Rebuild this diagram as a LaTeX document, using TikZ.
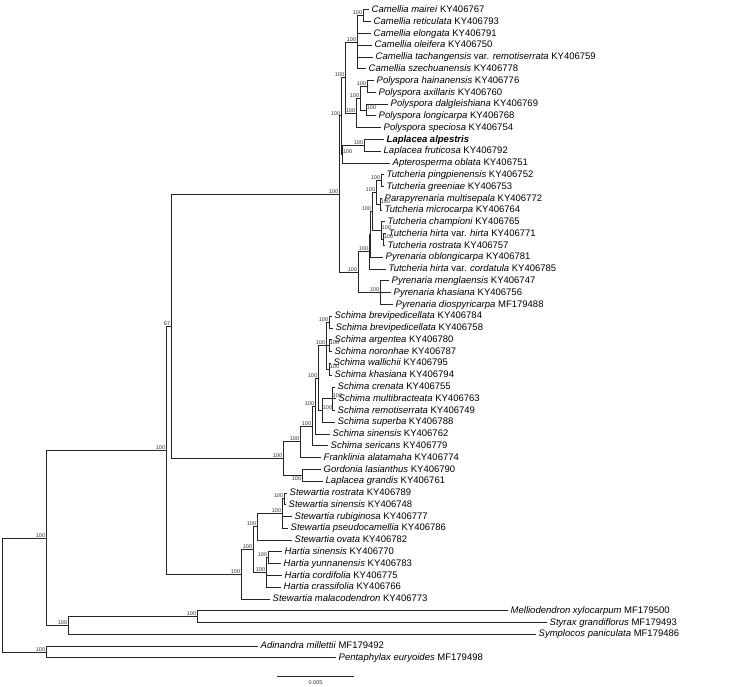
\documentclass[tikz,border=0pt]{standalone}
\usepackage{fontspec}
\setmainfont{Liberation Sans}
\usetikzlibrary{positioning}
\begin{document}
\begin{tikzpicture}[x=1pt, y=-1pt,
    branch/.style={line width=1pt, black!85},
    leaf/.style={anchor=west, inner xsep=2.5pt, inner ysep=0pt,
        font=\fontsize{9.5}{10}\selectfont, text height=6.8pt, text depth=1.6pt},
    boot/.style={font=\fontsize{5.5}{6}\selectfont, inner sep=0.7pt,
        anchor=south east, text=black!80},
    bootr/.style={boot, anchor=south west},
    bootb/.style={boot, anchor=north east}]
\useasboundingbox (0,0) rectangle (745,687);

% Leaves
\node[leaf] (l1) at (369,10.0) {\textit{Camellia mairei} KY406767};
\node[leaf] (l2) at (371,21.8) {\textit{Camellia reticulata} KY406793};
\node[leaf] (l3) at (371,33.6) {\textit{Camellia elongata} KY406791};
\node[leaf] (l4) at (372,45.3) {\textit{Camellia oleifera} KY406750};
\node[leaf] (l5) at (373,57.1) {\textit{Camellia tachangensis} var. \textit{remotiserrata} KY406759};
\node[leaf] (l6) at (366,68.9) {\textit{Camellia szechuanensis} KY406778};
\node[leaf] (l7) at (374,80.7) {\textit{Polyspora hainanensis} KY406776};
\node[leaf] (l8) at (376,92.5) {\textit{Polyspora axillaris} KY406760};
\node[leaf] (l9) at (388,104.2) {\textit{Polyspora dalgleishiana} KY406769};
\node[leaf] (l10) at (376,116.0) {\textit{Polyspora longicarpa} KY406768};
\node[leaf] (l11) at (381,127.8) {\textit{Polyspora speciosa} KY406754};
\node[leaf] (l12) at (384,139.6) {\textbf{\textit{Laplacea alpestris}}};
\node[leaf] (l13) at (381,151.4) {\textit{Laplacea fruticosa} KY406792};
\node[leaf] (l14) at (390,163.1) {\textit{Apterosperma oblata} KY406751};
\node[leaf] (l15) at (384,174.9) {\textit{Tutcheria pingpienensis} KY406752};
\node[leaf] (l16) at (384,186.7) {\textit{Tutcheria greeniae} KY406753};
\node[leaf] (l17) at (382,198.5) {\textit{Parapyrenaria multisepala} KY406772};
\node[leaf] (l18) at (382,210.3) {\textit{Tutcheria microcarpa} KY406764};
\node[leaf] (l19) at (385,222.0) {\textit{Tutcheria championi} KY406765};
\node[leaf] (l20) at (386,233.8) {\textit{Tutcheria hirta} var. \textit{hirta} KY406771};
\node[leaf] (l21) at (385,245.6) {\textit{Tutcheria rostrata} KY406757};
\node[leaf] (l22) at (383,257.4) {\textit{Pyrenaria oblongicarpa} KY406781};
\node[leaf] (l23) at (386,269.2) {\textit{Tutcheria hirta} var. \textit{cordatula} KY406785};
\node[leaf] (l24) at (389,280.9) {\textit{Pyrenaria menglaensis} KY406747};
\node[leaf] (l25) at (391,292.7) {\textit{Pyrenaria khasiana} KY406756};
\node[leaf] (l26) at (393,304.5) {\textit{Pyrenaria diospyricarpa} MF179488};
\node[leaf] (l27) at (332,316.3) {\textit{Schima brevipedicellata} KY406784};
\node[leaf] (l28) at (333,328.1) {\textit{Schima brevipedicellata} KY406758};
\node[leaf] (l29) at (332,339.8) {\textit{Schima argentea} KY406780};
\node[leaf] (l30) at (332,351.6) {\textit{Schima noronhae} KY406787};
\node[leaf] (l31) at (331,363.4) {\textit{Schima wallichii} KY406795};
\node[leaf] (l32) at (332,375.2) {\textit{Schima khasiana} KY406794};
\node[leaf] (l33) at (335,387.0) {\textit{Schima crenata} KY406755};
\node[leaf] (l34) at (336,398.7) {\textit{Schima multibracteata} KY406763};
\node[leaf] (l35) at (335,410.5) {\textit{Schima remotiserrata} KY406749};
\node[leaf] (l36) at (335,422.3) {\textit{Schima superba} KY406788};
\node[leaf] (l37) at (330,434.1) {\textit{Schima sinensis} KY406762};
\node[leaf] (l38) at (328,445.9) {\textit{Schima sericans} KY406779};
\node[leaf] (l39) at (321,457.6) {\textit{Franklinia alatamaha} KY406774};
\node[leaf] (l40) at (321,469.4) {\textit{Gordonia lasianthus} KY406790};
\node[leaf] (l41) at (323,481.2) {\textit{Laplacea grandis} KY406761};
\node[leaf] (l42) at (287,493.0) {\textit{Stewartia rostrata} KY406789};
\node[leaf] (l43) at (286,504.8) {\textit{Stewartia sinensis} KY406748};
\node[leaf] (l44) at (292,516.5) {\textit{Stewartia rubiginosa} KY406777};
\node[leaf] (l45) at (288,528.3) {\textit{Stewartia pseudocamellia} KY406786};
\node[leaf] (l46) at (292,540.1) {\textit{Stewartia ovata} KY406782};
\node[leaf] (l47) at (282,551.9) {\textit{Hartia sinensis} KY406770};
\node[leaf] (l48) at (281,563.7) {\textit{Hartia yunnanensis} KY406783};
\node[leaf] (l49) at (282,575.4) {\textit{Hartia cordifolia} KY406775};
\node[leaf] (l50) at (281,587.2) {\textit{Hartia crassifolia} KY406766};
\node[leaf] (l51) at (270,599.0) {\textit{Stewartia malacodendron} KY406773};
\node[leaf] (l52) at (508,610.8) {\textit{Melliodendron xylocarpum} MF179500};
\node[leaf] (l53) at (547,622.6) {\textit{Styrax grandiflorus} MF179493};
\node[leaf] (l54) at (536,634.3) {\textit{Symplocos paniculata} MF179486};
\node[leaf] (l55) at (258,646.1) {\textit{Adinandra millettii} MF179492};
\node[leaf] (l56) at (336,657.9) {\textit{Pentaphylax euryoides} MF179498};

% Internal nodes
\coordinate (c1a) at (363,15.9);
\coordinate (c1) at (357,42.4);
\coordinate (p1) at (367,86.6);
\coordinate (p2) at (366,110.1);
\coordinate (p3) at (360,98.4);
\coordinate (p) at (356,113.1);
\coordinate (cp) at (345,77.8);
\coordinate (la1) at (364,145.5);
\coordinate (la) at (342,154.3);
\coordinate (u) at (341,116.0);
\coordinate (ta) at (381,180.8);
\coordinate (tb) at (380,204.4);
\coordinate (tab) at (376,192.6);
\coordinate (tc) at (383,239.7);
\coordinate (tcc) at (381,230.9);
\coordinate (q1a) at (372,211.7);
\coordinate (q1b) at (370,234.6);
\coordinate (q1) at (369,251.9);
\coordinate (q2) at (380,292.7);
\coordinate (q) at (358,272.3);
\coordinate (t) at (339,194.1);
\coordinate (sb) at (329,322.2);
\coordinate (sa) at (329,345.7);
\coordinate (sw) at (329,369.3);
\coordinate (s1) at (326,345.7);
\coordinate (s3a) at (332,398.7);
\coordinate (s3) at (322,410.5);
\coordinate (s2) at (318,378.1);
\coordinate (s4) at (315,406.1);
\coordinate (s5) at (312,426.0);
\coordinate (b) at (300,441.8);
\coordinate (g) at (302,475.3);
\coordinate (a) at (283,458.6);
\coordinate (n67) at (171,326.4);
\coordinate (n6) at (284,498.9);
\coordinate (n5) at (282,513.6);
\coordinate (n3) at (257,526.9);
\coordinate (n4a) at (268,557.8);
\coordinate (n4) at (266,572.5);
\coordinate (n2) at (253,549.7);
\coordinate (n1) at (241,574.4);
\coordinate (th) at (166,450.4);
\coordinate (ms) at (197,616.7);
\coordinate (ss) at (68,625.5);
\coordinate (in) at (46,538.0);
\coordinate (out) at (46,652.0);
\coordinate (root) at (2,595.0);

% Branches
\foreach \p/\kids in {c1a/{l1,l2}, c1/{c1a,l3,l4,l5,l6}, p1/{l7,l8}, p2/{l9,l10},
    p3/{p1,p2}, p/{p3,l11}, cp/{c1,p}, la1/{l12,l13}, la/{la1,l14}, u/{cp,la},
    ta/{l15,l16}, tb/{l17,l18}, tab/{ta,tb}, tc/{l20,l21}, tcc/{l19,tc},
    q1a/{tab,tcc}, q1b/{q1a,l22}, q1/{q1b,l23}, q2/{l24,l25,l26}, q/{q1,q2},
    t/{u,q}, sb/{l27,l28}, sa/{l29,l30}, sw/{l31,l32}, s1/{sb,sa,sw},
    s3a/{l33,l34,l35}, s3/{s3a,l36}, s2/{s1,s3}, s4/{s2,l37}, s5/{s4,l38},
    b/{s5,l39}, g/{l40,l41}, a/{b,g}, n67/{t,a}, n6/{l42,l43}, n5/{n6,l44,l45},
    n3/{n5,l46}, n4a/{l47,l48}, n4/{n4a,l49,l50}, n2/{n3,n4}, n1/{n2,l51},
    th/{n67,n1}, ms/{l52,l53}, ss/{ms,l54}, in/{th,ss}, out/{l55,l56},
    root/{in,out}}
    \foreach \k in \kids
        \draw[branch] (\p) |- (\k.west);

% Bootstrap values
\foreach \n in {c1a,c1,p1,p3,p,cp,la1,u,ta,tab,q1a,q1,q2,q,t,sb,s1,s2,s4,s5,b,a,
    n6,n5,n3,n4a,n4,n2,n1,th,ms,ss,in,out}
    \node[boot] (bs-\n) at (\n) {100};
\foreach \n in {p2,la,tb,tc,tcc,sa,sw,s3a,s3}
    \node[bootr] (bs-\n) at (\n) {100};
\node[bootb] (bs-g) at (g) {100};
\node[boot] (bs-n67) at (n67) {67};

% Scale bar
\coordinate (bar-l) at (277,676);
\coordinate (bar-r) at (354,676);
\draw[branch] (bar-l) -- (bar-r);
\node[boot, anchor=center] (bar-txt) at (315.5,682.5) {0.005};
\end{tikzpicture}
\end{document}
